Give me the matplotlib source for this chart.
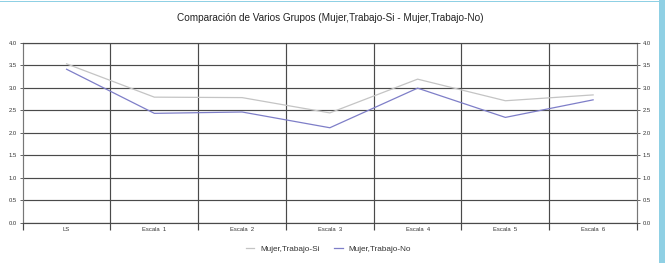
import matplotlib
matplotlib.use("Agg")
import matplotlib.pyplot as plt
from matplotlib.lines import Line2D
from matplotlib.patches import Rectangle

categories = ["LS", "Escala  1", "Escala  2", "Escala  3", "Escala  4", "Escala  5", "Escala  6"]
si_values = [3.53, 2.79, 2.78, 2.44, 3.19, 2.71, 2.84]
no_values = [3.41, 2.43, 2.46, 2.11, 2.99, 2.34, 2.73]
series_names = ["Mujer,Trabajo-Si", "Mujer,Trabajo-No"]
y_ticks = [0.0, 0.5, 1.0, 1.5, 2.0, 2.5, 3.0, 3.5, 4.0]
title = "Comparación de Varios Grupos (Mujer,Trabajo-Si - Mujer,Trabajo-No)"

plt.rcParams['font.family'] = ['Liberation Sans', 'DejaVu Sans']

W, H = 665, 263
fig = plt.figure(figsize=(W / 100, H / 100), dpi=100)
fig.patch.set_facecolor("white")

left = 22.7 / W
right = 637 / W
bottom = 1 - 222.7 / H
top = 1 - 42.7 / H
ax = fig.add_axes([left, bottom, right - left, top - bottom])

n = len(categories)
x = list(range(n))
grid_c = "#4a4a4a"

ax.set_xlim(-0.5, n - 0.5)
ax.set_ylim(0, 4.0)

for yv in y_ticks:
    ax.axhline(yv, color=grid_c, lw=0.85, zorder=1)
for b in range(1, n):
    ax.axvline(b - 0.5, color=grid_c, lw=0.85, zorder=1)

c_si = "#c4c4c4"
c_no = "#7e7ec8"
ax.plot(x, si_values, color=c_si, lw=0.9, zorder=3)
ax.plot(x, no_values, color=c_no, lw=0.9, zorder=3)

ax.set_yticks(y_ticks)
ax.set_yticklabels([f"{v:.1f}" for v in y_ticks])
ax.tick_params(axis='y', which='both', labelsize=4.2, length=2, width=0.6,
               color=grid_c, labelcolor="#333333", pad=2,
               left=True, right=True, labelleft=True, labelright=True)

ax.set_xticks([b - 0.5 for b in range(0, n + 1)])
ax.set_xticklabels([])
ax.set_xticks(x, minor=True)
ax.set_xticklabels(categories, minor=True)
ax.tick_params(axis='x', which='major', length=5, width=0.85, color=grid_c)
ax.tick_params(axis='x', which='minor', length=0, labelsize=4.2,
               labelcolor="#333333", pad=3)

for s in ["left", "right", "bottom", "top"]:
    ax.spines[s].set_color(grid_c)
    ax.spines[s].set_linewidth(0.85)
ax.spines["left"].set_color("#777777")
ax.spines["right"].set_color("#777777")

fig.text(330 / W, 1 - 18 / H, title, ha="center", va="center",
         fontsize=7.2, color="#222222")

handles = [Line2D([0], [0], color=c_si, lw=0.9),
           Line2D([0], [0], color=c_no, lw=0.9)]
fig.legend(handles, series_names, loc="center", bbox_to_anchor=(328.5 / W, 1 - 249 / H),
           ncol=2, frameon=False, fontsize=5.9, handlelength=1.0,
           handletextpad=0.7, columnspacing=1.8, labelcolor="#333333")

# light blue frame
fig.add_artist(Rectangle((0, 1 - 2 / H), 1, 1.5 / H, transform=fig.transFigure,
                         color="#8fd0e4", lw=0))
fig.add_artist(Rectangle((659 / W, 0), 6 / W, 1, transform=fig.transFigure,
                         color="#8fd0e4", lw=0))

fig.savefig("out.png", dpi=100, facecolor="white")
